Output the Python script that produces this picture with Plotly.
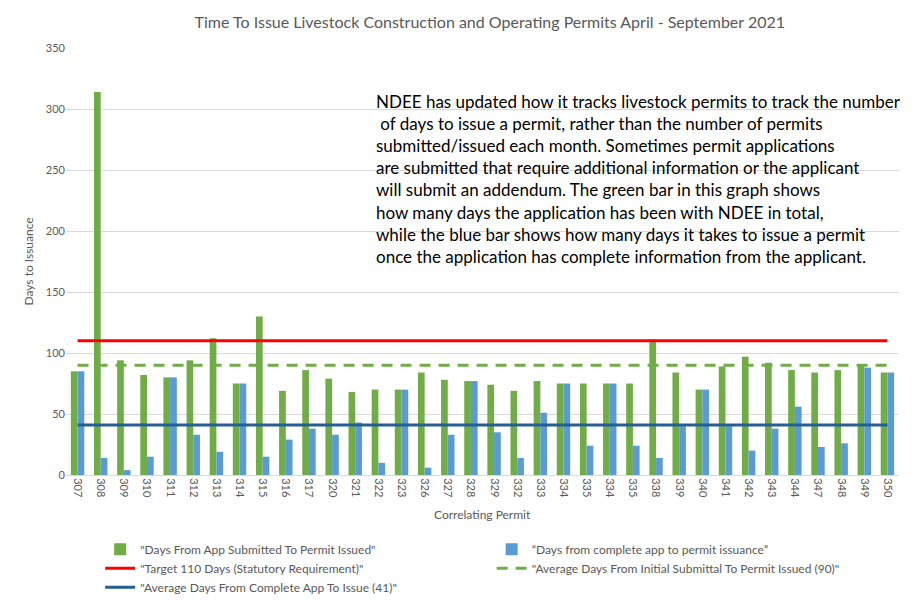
import plotly.graph_objects as go

permits = ["307", "308", "309", "310", "311", "312", "313", "314", "315", "316", "317", "320",
           "321", "322", "323", "326", "327", "328", "329", "332", "333", "334", "335", "334",
           "335", "338", "339", "340", "341", "342", "343", "344", "347", "348", "349", "350"]
days_total = [85, 314, 94, 82, 80, 94, 112, 75, 130, 69, 86, 79,
              68, 70, 70, 84, 78, 77, 74, 69, 77, 75, 75, 75,
              75, 111, 84, 70, 89, 97, 92, 86, 84, 86, 90, 84]
days_complete = [85, 14, 4, 15, 80, 33, 19, 75, 15, 29, 38, 33,
                 43, 10, 70, 6, 33, 77, 35, 14, 51, 75, 24, 75,
                 24, 14, 40, 70, 40, 20, 38, 56, 23, 26, 88, 84]
target = 110
avg_total = 90
avg_complete = 41

pos = list(range(len(permits)))

GREEN = "#70AD47"
BLUE = "#5B9BD5"
RED = "#FF0000"
DARKBLUE = "#255E91"
GRAY = "#595959"
FONT = "Lato, Open Sans, sans-serif"

fig = go.Figure()
fig.add_trace(go.Bar(x=pos, y=days_total, name='"Days From App Submitted To Permit Issued"',
                     marker=dict(color=GREEN, line_width=0)))
fig.add_trace(go.Bar(x=pos, y=days_complete, name='\u201cDays from complete app to permit issuance\u201d',
                     marker=dict(color=BLUE, line_width=0)))
fig.add_trace(go.Scatter(x=pos, y=[target] * len(pos), mode="lines",
                         name='"Target 110 Days (Statutory Requirement)"',
                         line=dict(color=RED, width=3)))
fig.add_trace(go.Scatter(x=pos, y=[avg_total] * len(pos), mode="lines",
                         name='"Average Days From Initial Submittal To Permit Issued (90)"',
                         line=dict(color=GREEN, width=3, dash="11px,8px")))
fig.add_trace(go.Scatter(x=pos, y=[avg_complete] * len(pos), mode="lines",
                         name='"Average Days From Complete App To Issue (41)"',
                         line=dict(color=DARKBLUE, width=3)))

note = ("NDEE has updated how it tracks livestock permits to track the number<br>"
        " of days to issue a permit, rather than the number of permits<br>"
        "submitted/issued each month. Sometimes permit applications<br>"
        "are submitted that require additional information or the applicant<br>"
        "will submit an addendum. The green bar in this graph shows<br>"
        "how many days the application has been with NDEE in total,<br>"
        "while the blue bar shows how many days it takes to issue a permit<br>"
        "once the application has complete information from the applicant.")

fig.update_layout(
    width=916, height=612,
    margin=dict(l=58, r=25, t=40, b=145, autoexpand=False),
    paper_bgcolor="white", plot_bgcolor="white",
    font=dict(family=FONT, color=GRAY, size=11),
    title=dict(text="Time To Issue Livestock Construction and Operating Permits April - September 2021",
               x=0.526, xref="container", xanchor="center", y=1 - 14 / 612, yref="container",
               yanchor="middle", font=dict(size=16, color=GRAY)),
    barmode="group", bargap=0.42, bargroupgap=0,
    xaxis=dict(tickmode="array", tickvals=pos, ticktext=permits, tickangle=90,
               range=[-0.5, len(pos) - 0.5], showgrid=False, showline=True,
               linecolor="#d9d9d9", ticks="", zeroline=False, automargin=False,
               tickfont=dict(size=11, color=GRAY)),
    yaxis=dict(range=[0, 350], dtick=50, showgrid=True, gridcolor="#d9d9d9", gridwidth=1,
               zeroline=False, showline=False, ticks="", automargin=False,
               tickfont=dict(size=11, color=GRAY)),
    legend=dict(orientation="h", x=0.041, xanchor="left", y=-0.14, yanchor="top",
                entrywidth=0.47, entrywidthmode="fraction", traceorder="normal",
                font=dict(size=12, color=GRAY), bgcolor="rgba(0,0,0,0)", tracegroupgap=4),
    annotations=[
        dict(text=note, xref="paper", yref="paper", x=0.37, y=0.905,
             xanchor="left", yanchor="top", align="left", showarrow=False,
             font=dict(size=17, color="#000000", family=FONT)),
        dict(text="Correlating Permit", xref="paper", yref="paper", x=0.5, y=-39 / 427,
             xanchor="center", yanchor="middle", showarrow=False,
             font=dict(size=12, color=GRAY, family=FONT)),
        dict(text="Days to Issuance", xref="paper", yref="paper", x=-38 / 833, y=0.5,
             xanchor="center", yanchor="middle", showarrow=False, textangle=-90,
             font=dict(size=12, color=GRAY, family=FONT)),
    ],
)

fig.write_html("out.html")
